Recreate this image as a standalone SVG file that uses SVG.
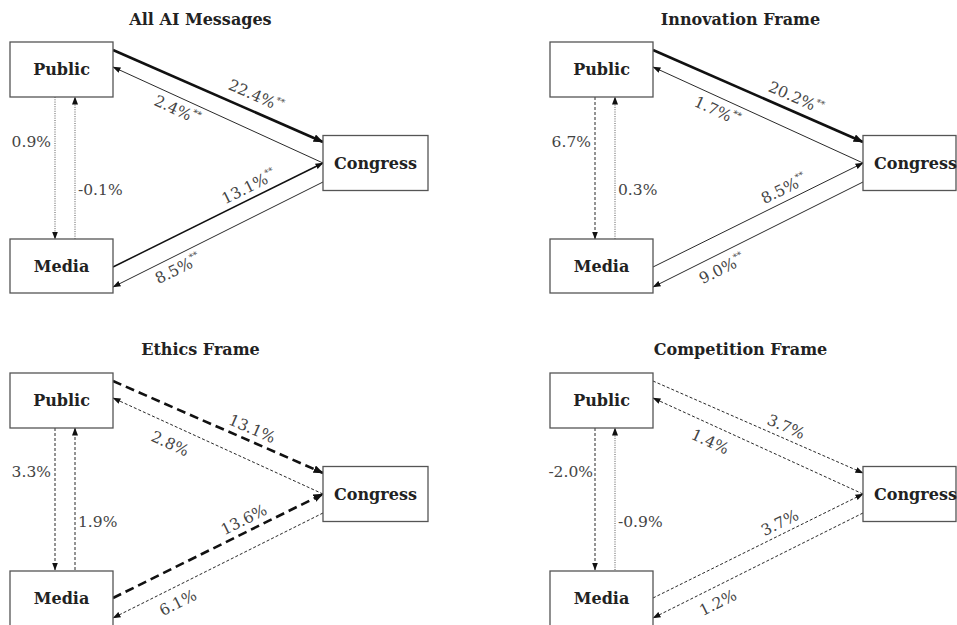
<svg xmlns="http://www.w3.org/2000/svg" width="957" height="625" viewBox="0 0 957 625">
<style>
.bg{fill:#fff}
.box{fill:#fff;stroke:#555;stroke-width:1.3}
.node{font-family:"DejaVu Serif","Liberation Serif",serif;font-weight:bold;font-size:16px;fill:#222;text-anchor:middle}
.title{font-family:"DejaVu Serif","Liberation Serif",serif;font-weight:bold;font-size:16px;fill:#222;text-anchor:middle}
.lab{font-family:"DejaVu Serif","Liberation Serif",serif;font-size:15.5px;fill:#444}
.mid{text-anchor:middle}
.end{text-anchor:end}
.sup{font-size:9px}
.e{fill:none;stroke:#111}
.thick{stroke-width:2.6}
.med{stroke-width:1.5}
.thin{stroke-width:0.9}
.tdash{stroke-width:2.6;stroke-dasharray:9 5}
.dash{stroke-width:0.9;stroke-dasharray:3 2}
.dot{stroke-width:0.9;stroke-dasharray:1 1.3;stroke:#444}
</style>
<defs>
<marker id="ah" viewBox="0 0 8 6" refX="7.5" refY="3" markerWidth="8" markerHeight="6" markerUnits="userSpaceOnUse" orient="auto"><path d="M0,0 L8,3 L0,6 Z" fill="#111"/></marker>
<marker id="ahL" viewBox="0 0 10 8" refX="9.5" refY="4" markerWidth="10" markerHeight="8" markerUnits="userSpaceOnUse" orient="auto"><path d="M0,0 L10,4 L0,8 Z" fill="#111"/></marker>
</defs>
<rect class="bg" x="0" y="0" width="957" height="625"/>

<!-- Panel 1 -->
<g id="panel-all">
<text class="title" x="200.5" y="25">All AI Messages</text>
<g id="p1-connectors">
<path class="e thick" d="M113,50 L323,142" marker-end="url(#ahL)"/>
<path class="e thin" d="M323,163 L113,67" marker-end="url(#ah)"/>
<path class="e med" d="M113,267 L323,163" marker-end="url(#ah)"/>
<path class="e thin" d="M323,182 L113,287" marker-end="url(#ah)"/>
<path class="e dot" d="M55,97 L55,239" marker-end="url(#ah)"/>
<path class="e dot" d="M75,239 L75,97" marker-end="url(#ah)"/>
<text class="lab mid" transform="translate(256,96) rotate(23.7)" y="5">22.4%<tspan class="sup" dy="-7">**</tspan></text>
<text class="lab mid" transform="translate(177,110) rotate(24.6)" y="5">2.4%<tspan class="sup" dy="-7">**</tspan></text>
<text class="lab mid" transform="translate(249,187) rotate(-26.3)" y="5">13.1%<tspan class="sup" dy="-7">**</tspan></text>
<text class="lab mid" transform="translate(178,269) rotate(-26.6)" y="5">8.5%<tspan class="sup" dy="-7">**</tspan></text>
<text class="lab end" x="51" y="147">0.9%</text>
<text class="lab" x="78" y="195">-0.1%</text>
</g>
<g id="p1-public"><rect class="box" x="10" y="42" width="103" height="55"/><text class="node" x="61.5" y="75">Public</text></g>
<g id="p1-media"><rect class="box" x="10" y="239" width="103" height="54"/><text class="node" x="61.5" y="272">Media</text></g>
<g id="p1-congress"><rect class="box" x="323" y="135.5" width="105" height="55"/><text class="node" x="375.5" y="169">Congress</text></g>
</g>

<!-- Panel 2 -->
<g id="panel-innovation" transform="translate(540,0)">
<text class="title" x="200.5" y="25">Innovation Frame</text>
<g id="p2-connectors">
<path class="e thick" d="M113,50 L323,142" marker-end="url(#ahL)"/>
<path class="e thin" d="M323,163 L113,67" marker-end="url(#ah)"/>
<path class="e thin" d="M113,267 L323,163" marker-end="url(#ah)"/>
<path class="e thin" d="M323,182 L113,287" marker-end="url(#ah)"/>
<path class="e dash" d="M55,97 L55,239" marker-end="url(#ah)"/>
<path class="e dot" d="M75,239 L75,97" marker-end="url(#ah)"/>
<text class="lab mid" transform="translate(256,98) rotate(23.7)" y="5">20.2%<tspan class="sup" dy="-7">**</tspan></text>
<text class="lab mid" transform="translate(177,111) rotate(24.6)" y="5">1.7%<tspan class="sup" dy="-7">**</tspan></text>
<text class="lab mid" transform="translate(244,189) rotate(-26.3)" y="5">8.5%<tspan class="sup" dy="-7">**</tspan></text>
<text class="lab mid" transform="translate(182,269) rotate(-26.6)" y="5">9.0%<tspan class="sup" dy="-7">**</tspan></text>
<text class="lab end" x="51" y="147">6.7%</text>
<text class="lab" x="78" y="195">0.3%</text>
</g>
<g id="p2-public"><rect class="box" x="10" y="42" width="103" height="55"/><text class="node" x="61.5" y="75">Public</text></g>
<g id="p2-media"><rect class="box" x="10" y="239" width="103" height="54"/><text class="node" x="61.5" y="272">Media</text></g>
<g id="p2-congress"><rect class="box" x="323" y="135.5" width="93" height="55"/><text class="node" x="375.5" y="169">Congress</text></g>
</g>

<!-- Panel 3 -->
<g id="panel-ethics" transform="translate(0,331)">
<text class="title" x="200.5" y="24">Ethics Frame</text>
<g id="p3-connectors">
<path class="e tdash" d="M113,50 L323,142" marker-end="url(#ahL)"/>
<path class="e dash" d="M323,163 L113,67" marker-end="url(#ah)"/>
<path class="e tdash" d="M113,267 L323,163" marker-end="url(#ahL)"/>
<path class="e dash" d="M323,182 L113,287" marker-end="url(#ah)"/>
<path class="e dash" d="M55,97 L55,239" marker-end="url(#ah)"/>
<path class="e dash" d="M75,239 L75,97" marker-end="url(#ah)"/>
<text class="lab mid" transform="translate(252,98) rotate(23.7)" y="5">13.1%</text>
<text class="lab mid" transform="translate(170,113) rotate(24.6)" y="5">2.8%</text>
<text class="lab mid" transform="translate(244,189) rotate(-26.3)" y="5">13.6%</text>
<text class="lab mid" transform="translate(178,272) rotate(-26.6)" y="5">6.1%</text>
<text class="lab end" x="51" y="146">3.3%</text>
<text class="lab" x="78" y="196">1.9%</text>
</g>
<g id="p3-public"><rect class="box" x="10" y="42" width="103" height="55"/><text class="node" x="61.5" y="75">Public</text></g>
<g id="p3-media"><rect class="box" x="10" y="240" width="103" height="60"/><text class="node" x="61.5" y="273">Media</text></g>
<g id="p3-congress"><rect class="box" x="323" y="135.5" width="105" height="55"/><text class="node" x="375.5" y="169">Congress</text></g>
</g>

<!-- Panel 4 -->
<g id="panel-competition" transform="translate(540,331)">
<text class="title" x="200.5" y="24">Competition Frame</text>
<g id="p4-connectors">
<path class="e dash" d="M113,50 L323,142" marker-end="url(#ah)"/>
<path class="e dash" d="M323,163 L113,67" marker-end="url(#ah)"/>
<path class="e dash" d="M113,267 L323,163" marker-end="url(#ah)"/>
<path class="e dash" d="M323,182 L113,287" marker-end="url(#ah)"/>
<path class="e dash" d="M55,97 L55,239" marker-end="url(#ah)"/>
<path class="e dot" d="M75,239 L75,97" marker-end="url(#ah)"/>
<text class="lab mid" transform="translate(246,96) rotate(23.7)" y="5">3.7%</text>
<text class="lab mid" transform="translate(170,111) rotate(24.6)" y="5">1.4%</text>
<text class="lab mid" transform="translate(240,192) rotate(-26.3)" y="5">3.7%</text>
<text class="lab mid" transform="translate(178,272) rotate(-26.6)" y="5">1.2%</text>
<text class="lab end" x="53" y="146">-2.0%</text>
<text class="lab" x="78" y="196">-0.9%</text>
</g>
<g id="p4-public"><rect class="box" x="10" y="42" width="103" height="55"/><text class="node" x="61.5" y="75">Public</text></g>
<g id="p4-media"><rect class="box" x="10" y="240" width="103" height="60"/><text class="node" x="61.5" y="273">Media</text></g>
<g id="p4-congress"><rect class="box" x="323" y="135.5" width="93" height="55"/><text class="node" x="375.5" y="169">Congress</text></g>
</g>
</svg>
